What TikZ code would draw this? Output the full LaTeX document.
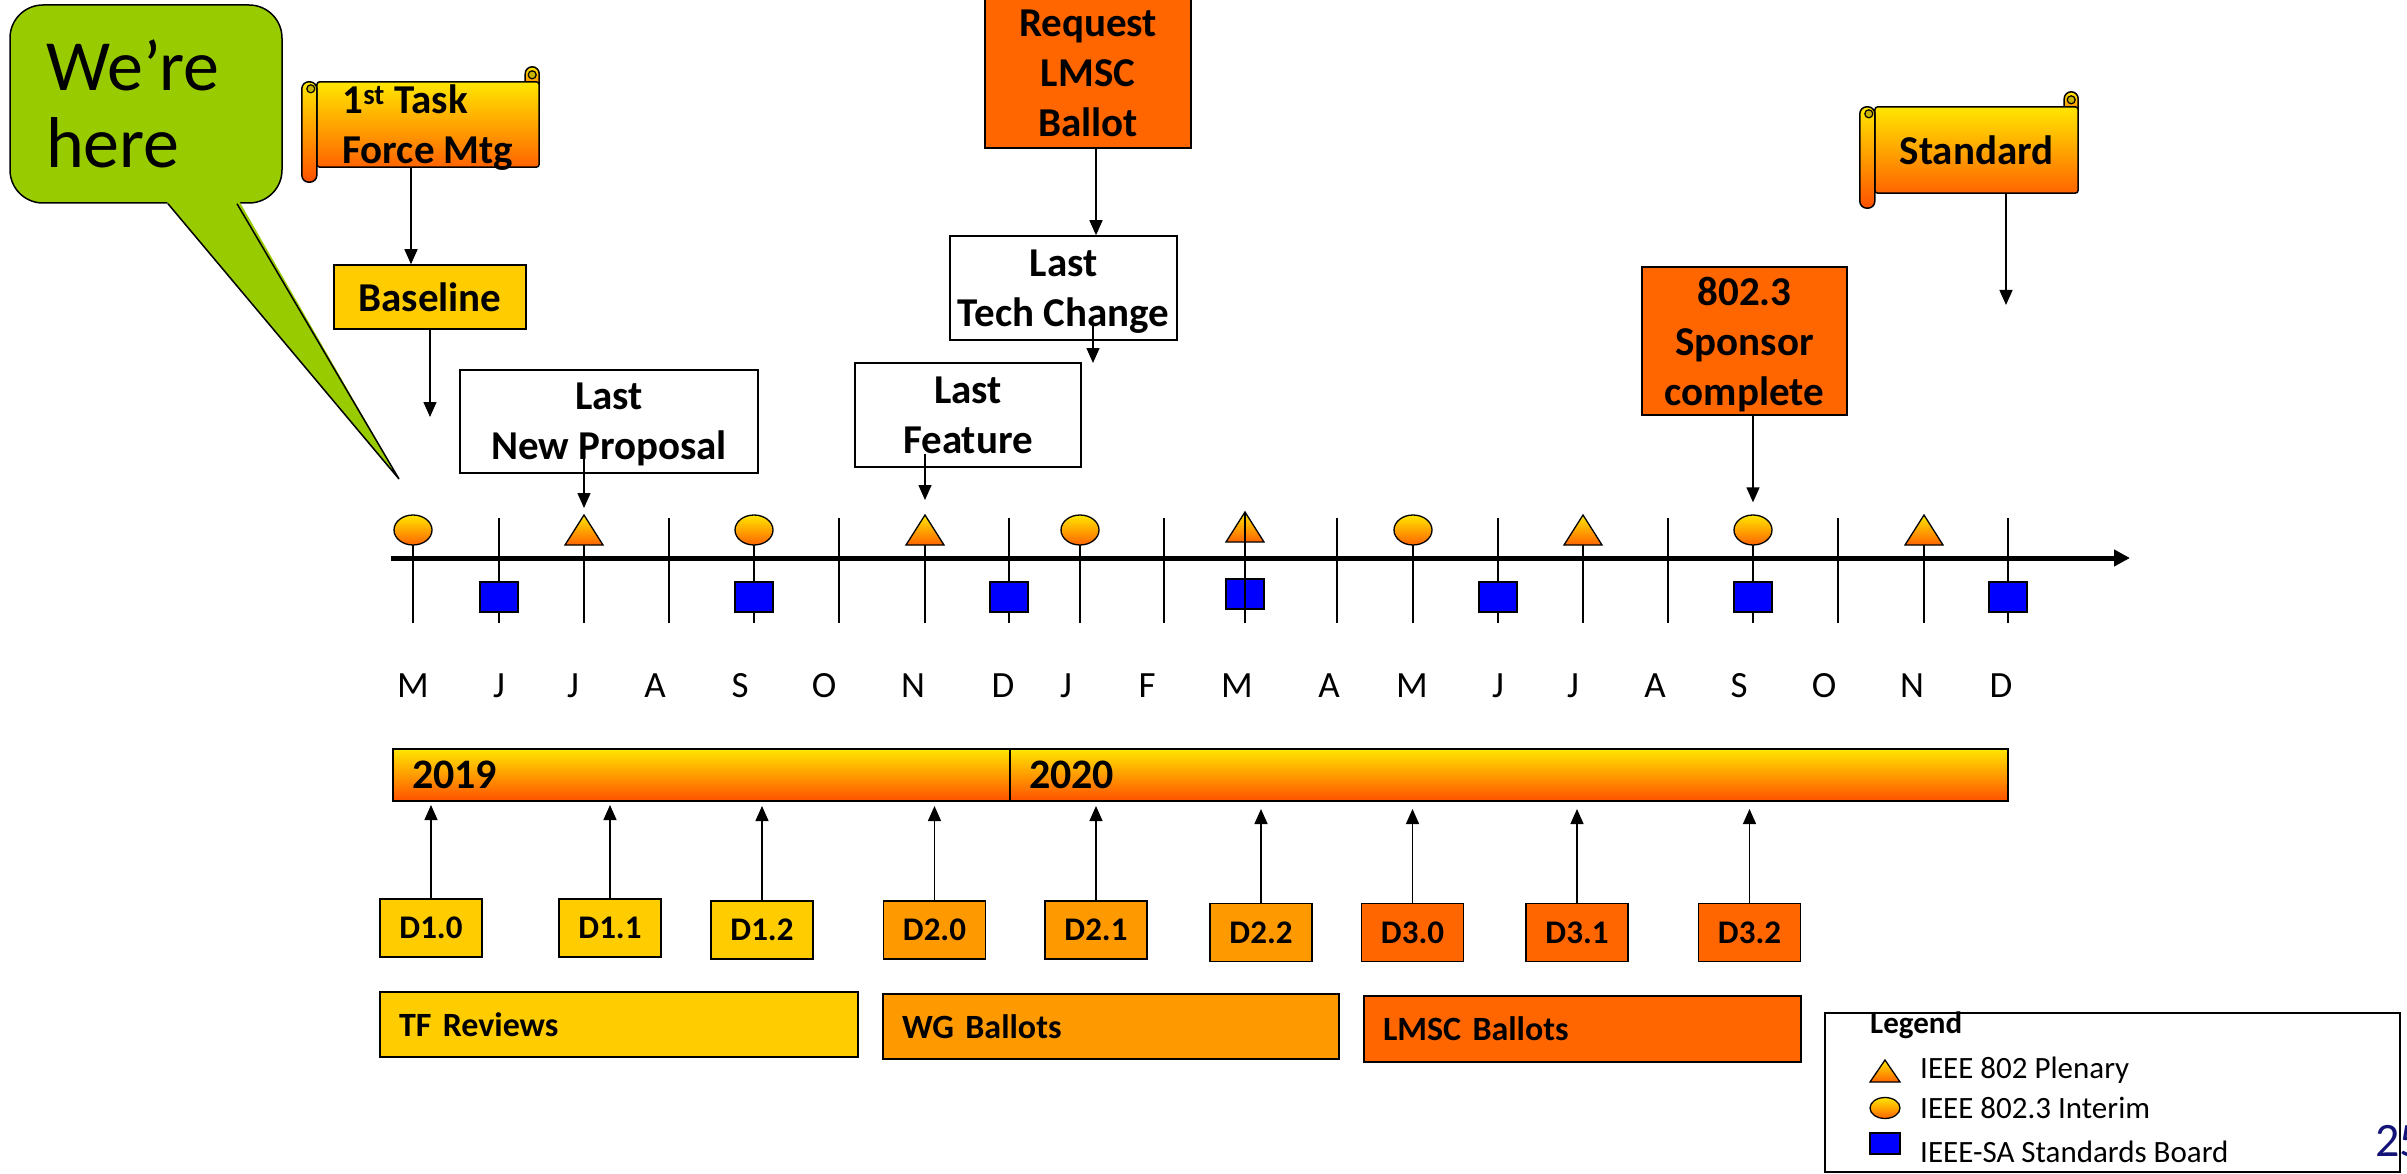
\documentclass[tikz,border=0pt]{standalone}
\usepackage{fontspec}
\setmainfont{Carlito}
\usetikzlibrary{
    shapes.geometric,
    arrows.meta,
    positioning,
}
\pgfdeclarelayer{background}
\pgfsetlayers{background,main}

\definecolor{shadetop}{RGB}{255,230,0}
\definecolor{shadebot}{RGB}{255,100,0}
\definecolor{yearbot}{RGB}{255,80,0}
\definecolor{tfgold}{RGB}{255,204,0}
\definecolor{wgamber}{RGB}{255,153,0}
\definecolor{lmscorange}{RGB}{255,102,0}
\definecolor{bubblegreen}{RGB}{153,204,0}
\definecolor{curl}{RGB}{200,180,0}
\definecolor{slidenavy}{RGB}{20,20,120}

\newcommand{\boxfont}{\fontsize{41}{50}\selectfont\bfseries}
\newcommand{\bubblefont}{\fontsize{72}{77}\selectfont}
\newcommand{\monthfont}{\fontsize{37}{44}\selectfont}
\newcommand{\yearfont}{\fontsize{42}{50}\selectfont\bfseries}
\newcommand{\draftfont}{\fontsize{33}{40}\selectfont\bfseries}
\newcommand{\phasefont}{\fontsize{34}{40}\selectfont\bfseries}
\newcommand{\legendfont}{\fontsize{31}{37}\selectfont}

\tikzstyle{block} = [rectangle, draw, line width=1.5pt, align=center,
    inner sep=0pt, text depth=0pt, font=\boxfont]
\tikzstyle{scrolltext} = [rectangle, inner sep=0pt, text depth=0pt, font=\boxfont]
\tikzstyle{rollfill} = [draw, line width=1.5pt, top color=shadetop, bottom color=shadebot]
\tikzstyle{bubble} = [rectangle, rounded corners=33pt, draw, line width=1.5pt,
    fill=bubblegreen, minimum width=272pt, minimum height=198pt,
    text width=200pt, inner xsep=36pt, align=left, font=\bubblefont]
\tikzstyle{draft} = [rectangle, draw, line width=1.5pt, minimum width=102pt,
    minimum height=58pt, inner sep=0pt, font=\draftfont]
\tikzstyle{phase} = [rectangle, draw, line width=1.5pt, align=left,
    inner xsep=19pt, minimum height=65pt, font=\phasefont]
\tikzstyle{year} = [rectangle, draw, line width=2pt, top color=shadetop,
    bottom color=yearbot, align=left, inner xsep=19pt, minimum height=52pt, font=\yearfont]
\tikzstyle{interim} = [ellipse, draw, line width=1.3pt, minimum width=38pt,
    minimum height=30pt, inner sep=0pt, top color=shadetop, bottom color=shadebot]
\tikzstyle{plenary} = [draw, line width=1.3pt, top color=shadetop, bottom color=shadebot]
\tikzstyle{board} = [rectangle, draw, line width=1.3pt, fill=blue,
    minimum width=38pt, minimum height=30pt, inner sep=0pt]
\tikzstyle{month} = [anchor=base, inner sep=0pt, font=\monthfont]
\tikzstyle{line} = [draw, line width=1.4pt]
\tikzstyle{tick} = [draw, line width=1.3pt]
\tikzstyle{arr} = [line, -{Triangle[length=15pt,width=13pt]}]

% rolls and body of a scroll round a text node
\newcommand{\scrollback}[1]{%
    \begin{pgfonlayer}{background}
        \path[rollfill, rounded corners=7pt] ([xshift=-14pt,yshift=-10pt]#1.north east)
            rectangle ([yshift=15pt]#1.north east);
        \path[rollfill, rounded corners=3pt] (#1.north west) rectangle (#1.south east);
        \path[rollfill, bottom color=yearbot, rounded corners=7pt] ([xshift=-15pt]#1.north west)
            rectangle ([yshift=-15pt]#1.south west);
        \draw[line width=1.2pt, fill=curl] ([xshift=-6pt,yshift=-7pt]#1.north west) circle (4pt);
        \draw[line width=1.2pt, fill=curl] ([xshift=-7pt,yshift=7pt]#1.north east) circle (4pt);
    \end{pgfonlayer}}

\begin{document}
\begin{tikzpicture}[x=1pt, y=-1pt]
    \clip (0,0) rectangle (2407,1174);
    % Place nodes
    \node [bubble] (here) at (146,104) {We’re\\here};
    \coordinate (tailtip) at (399,479);
    \fill [bubblegreen] ([xshift=20pt,yshift=3pt]here.south) -- (tailtip)
        -- ([xshift=93pt,yshift=3pt]here.south) -- cycle;
    \draw [line width=1.5pt] ([xshift=22pt]here.south) -- (tailtip) -- ([xshift=91pt]here.south);

    \node [scrolltext, align=left, minimum width=222pt, minimum height=85pt]
        (taskforce) at (428,124.5) {1\textsuperscript{st} Task\\Force Mtg};
    \scrollback{taskforce}
    \node [block, fill=tfgold, minimum width=192pt, minimum height=64pt] (baseline) at (430,297) {Baseline};
    \node [block, minimum width=298pt, minimum height=103pt] (newprop) at (609,421.5) {Last\\New Proposal};
    \node [block, minimum width=226pt, minimum height=104pt] (feature) at (968,415) {Last\\Feature};
    \node [block, minimum width=227pt, minimum height=104pt] (techchange) at (1063.5,288) {Last\\Tech Change};
    \node [block, fill=lmscorange, minimum width=206pt, minimum height=149pt] (reqlmsc) at (1088,73.5) {Request\\LMSC\\Ballot};
    \node [block, fill=lmscorange, minimum width=205pt, minimum height=148pt] (sponsor) at (1744.5,341) {802.3\\Sponsor\\complete};
    \node [scrolltext, minimum width=203pt, minimum height=86pt] (standard) at (1976.5,150) {Standard};
    \scrollback{standard}

    \coordinate (baselineEnd) at (431,417);
    \coordinate (techEnd) at (1093,363);
    \coordinate (standardEnd) at (2006,305);

    % Time line
    \foreach \x/\m/\lx in {413/M/413, 499/J/499, 584/J/573, 669/A/655, 754/S/740,
        839/O/824, 925/N/913, 1009/D/1003, 1080/J/1066, 1164/F/1147, 1245/M/1237,
        1337/A/1329, 1413/M/1412, 1498/J/1498, 1583/J/1573, 1668/A/1655,
        1753/S/1739, 1838/O/1824, 1924/N/1912, 2008/D/2001} {
        \path [tick] (\x,518) -- (\x,623);
        \node [month] (m\lx) at (\lx,697) {\m};
    }
    \coordinate (axisStart) at (391,558);
    \coordinate (axisEnd) at (2130,558);
    \path [draw, line width=5pt, -{Triangle[length=16pt,width=16pt]}] (axisStart) -- (axisEnd);

    \foreach \x [count=\i] in {413,754,1080,1413,1753}
        \node [interim] (int\i) at (\x,530) {};
    \foreach \x/\y [count=\i] in {499/597,754/597,1009/597,1245/594,1498/597,1753/597,2008/597}
        \node [board] (sb\i) at (\x,\y) {};
    \foreach \x/\t [count=\i] in {584/515,925/515,1245/512,1583/515,1924/515} {
        \path [plenary] (\x-19,\t+30) -- (\x,\t) -- (\x+19,\t+30) -- cycle;
        \coordinate (plen\i) at (\x,\t);
    }
    \path [tick] (1245,512) -- (1245,620);

    % Years, drafts and ballots
    \node [year, text width=579pt] (y2019) at (701.5,775) {2019};
    \node [year, text width=960pt] (y2020) at (1509,775) {2020};
    \node [draft, fill=tfgold] (d10) at (431,928) {D1.0};
    \node [draft, fill=tfgold] (d11) at (610,928) {D1.1};
    \node [draft, fill=tfgold] (d12) at (762,930) {D1.2};
    \node [draft, fill=wgamber] (d20) at (934.5,930) {D2.0};
    \node [draft, fill=wgamber] (d21) at (1096,930) {D2.1};
    \node [draft, fill=wgamber] (d22) at (1261,932.5) {D2.2};
    \node [draft, fill=lmscorange] (d30) at (1412.5,932.5) {D3.0};
    \node [draft, fill=lmscorange] (d31) at (1577,932.5) {D3.1};
    \node [draft, fill=lmscorange] (d32) at (1749.5,932.5) {D3.2};
    \node [phase, fill=tfgold, text width=440pt] (tfrev) at (619,1024.5) {TF Reviews};
    \node [phase, fill=wgamber, text width=418pt] (wgbal) at (1111,1026.5) {WG Ballots};
    \node [phase, fill=lmscorange, text width=399pt, minimum height=66pt] (lmscbal) at (1582.5,1029) {LMSC Ballots};

    % Legend
    \node [anchor=base west, inner sep=0pt, font=\fontsize{48}{56}\selectfont, text=slidenavy]
        (pagenum) at (2375,1156) {25};
    \node [rectangle, draw, line width=1.5pt, minimum width=575pt, minimum height=159pt,
        inner sep=0pt] (legend) at (2112.5,1092.5) {};
    \node [anchor=base west, inner sep=0pt, font=\fontsize{31}{36}\selectfont\bfseries]
        (legtitle) at (1870,1033) {Legend};
    \path [plenary] (1870,1082) -- (1885,1060) -- (1900,1082) -- cycle;
    \node [interim, minimum width=30pt, minimum height=21pt] (legint) at (1885,1108) {};
    \node [board, minimum width=30pt, minimum height=21pt] (legsb) at (1885,1143.5) {};
    \node [anchor=base west, inner sep=0pt, font=\legendfont] (legplen) at (1920,1078) {IEEE 802 Plenary};
    \node [anchor=base west, inner sep=0pt, font=\legendfont] (leginterim) at (1920,1118) {IEEE 802.3 Interim};
    \node [anchor=base west, inner sep=0pt, font=\legendfont] (legboard) at (1920,1162) {IEEE-SA Standards Board};

    % Draw edges
    \path [arr] ([xshift=-17pt]taskforce.south) -- ([xshift=-17pt]taskforce.south |- baseline.north);
    \path [arr] (baseline.south) -- (baseline.south |- baselineEnd);
    \path [arr] ([yshift=15pt]newprop.south -| plen1) -- ([yshift=7pt]plen1);
    \path [arr] ([yshift=14pt]feature.south -| plen2) -- ([yshift=15pt]plen2);
    \path [arr] ([xshift=8pt]reqlmsc.south) -- ([xshift=8pt]reqlmsc.south |- techchange.north);
    \path [arr] ([yshift=15pt]techchange.south -| techEnd) -- (techEnd);
    \path [arr] (sponsor.south -| int5) -- ([yshift=12pt]int5.north);
    \path [arr] (standard.south -| standardEnd) -- (standardEnd);
    \path [arr, shorten >=3pt] (d10.north) -- (d10.north |- y2019.south);
    \path [arr, shorten >=3pt] (d11.north) -- (d11.north |- y2019.south);
    \path [arr, shorten >=4pt] (d12.north) -- (d12.north |- y2019.south);
    \path [arr, shorten >=4pt] (d20.north) -- (d20.north |- y2019.south);
    \path [arr, shorten >=4pt] (d21.north) -- (d21.north |- y2020.south);
    \path [arr, shorten >=7pt] (d22.north) -- (d22.north |- y2020.south);
    \path [arr, shorten >=7pt] (d30.north) -- (d30.north |- y2020.south);
    \path [arr, shorten >=7pt] (d31.north) -- (d31.north |- y2020.south);
    \path [arr, shorten >=7pt] (d32.north) -- (d32.north |- y2020.south);
\end{tikzpicture}
\end{document}
